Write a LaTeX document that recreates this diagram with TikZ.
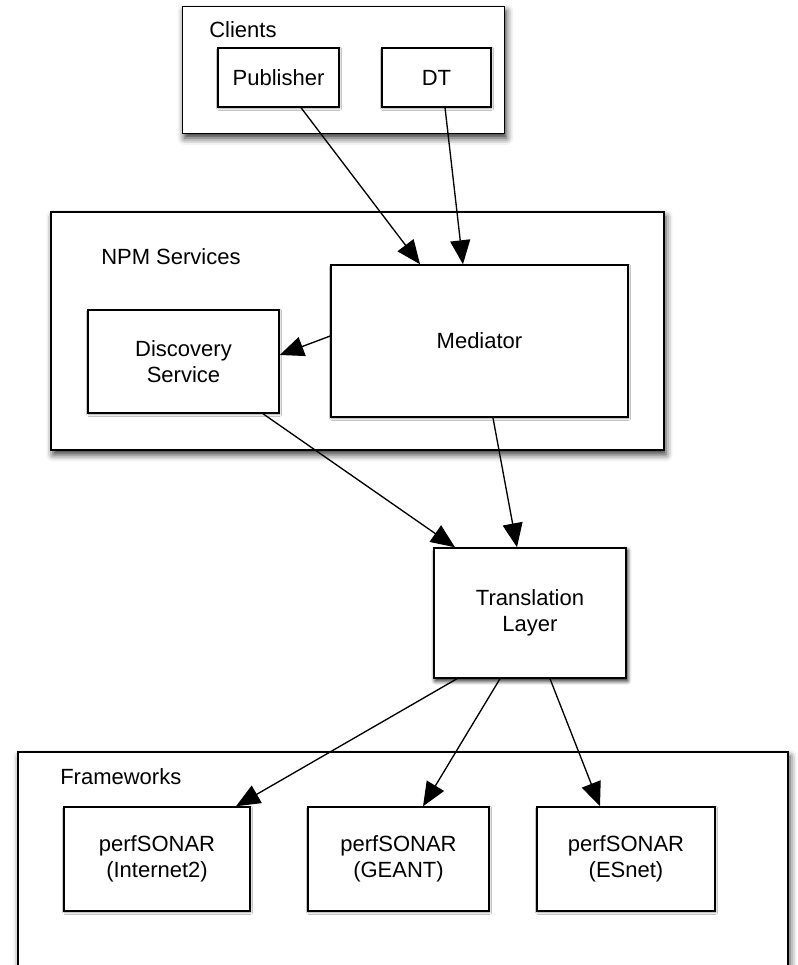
\documentclass[tikz,border=0pt]{standalone}
\usepackage{fontspec}
\setmainfont{Liberation Sans}
\usetikzlibrary{arrows.meta,shadows.blur}

\begin{document}
\begin{tikzpicture}[x=0.75pt,y=0.75pt,yscale=-1,
        font=\fontsize{16.5}{19.5}\selectfont,
        group/.style={draw=black, line width=1.2pt, fill=white, inner sep=0pt,
            blur shadow={shadow xshift=1.5pt, shadow yshift=-3.5pt, shadow blur radius=5pt, shadow opacity=80}},
        part/.style={draw=black, line width=1.1pt, fill=white, align=center, inner sep=0pt,
            blur shadow={shadow xshift=0.5pt, shadow yshift=-1pt, shadow blur radius=1.5pt, shadow opacity=40}},
        title/.style={anchor=west, inner sep=0pt},
        link/.style={line width=1pt, -{Triangle[length=18pt,width=15pt]}}]
        \useasboundingbox (0,0) rectangle (798,965);
        % outer groups
        \node [group, minimum width=241.5pt, minimum height=95.25pt] (clients) at (343.5,70) {};
        \node [group, minimum width=459.75pt, minimum height=178.5pt] (npm) at (357.5,331) {};
        \node [group, minimum width=577.5pt, minimum height=180pt] (frameworks) at (403,872) {};
        \node [title] (clientslbl) at (209,30) {Clients};
        \node [title] (npmlbl) at (101,257) {NPM Services};
        \node [title] (frameworkslbl) at (60,777) {Frameworks};
        % clients
        \node [part, minimum width=90.75pt, minimum height=44.25pt] (pub) at (278.5,77.5) {Publisher};
        \node [part, minimum width=81.75pt, minimum height=44.25pt] (dt) at (436.5,77.5) {DT};
        % services
        \node [part, minimum width=222.75pt, minimum height=114pt] (med) at (479.5,341) {Mediator};
        \node [part, minimum width=143.25pt, minimum height=77.25pt] (disc) at (183.5,361.5) {Discovery\\Service};
        \node [part, minimum width=144pt, minimum height=97.5pt,
            blur shadow={shadow xshift=1pt, shadow yshift=-2pt, shadow blur radius=3pt, shadow opacity=60}] (tl) at (530,613) {Translation\\Layer};
        % frameworks
        \node [part, minimum width=139.5pt, minimum height=78pt] (inet) at (157,859) {perfSONAR\\(Internet2)};
        \node [part, minimum width=135.75pt, minimum height=78pt] (geant) at (398.5,859) {perfSONAR\\(GEANT)};
        \node [part, minimum width=133.5pt, minimum height=78pt] (esnet) at (626,859) {perfSONAR\\(ESnet)};
        % connectors
        \draw [link] ([xshift=16.9pt]pub.south) -- ([xshift=-44.6pt]med.north);
        \draw [link] ([xshift=6.4pt]dt.south) -- ([xshift=-12.4pt]med.north);
        \draw [link] ([yshift=-3.75pt]med.west) -- ([yshift=-4.9pt]disc.east);
        \draw [link] ([xshift=59.6pt]disc.south) -- ([xshift=-56.25pt]tl.north);
        \draw [link] ([xshift=10.1pt]med.south) -- ([xshift=-9.75pt]tl.north);
        \draw [link] ([xshift=-54.75pt]tl.south) -- ([xshift=59.25pt]inet.north);
        \draw [link] ([xshift=-22.5pt]tl.south) -- ([xshift=18.4pt]geant.north);
        \draw [link] ([xshift=15pt]tl.south) -- ([xshift=-19.5pt]esnet.north);
\end{tikzpicture}
\end{document}
